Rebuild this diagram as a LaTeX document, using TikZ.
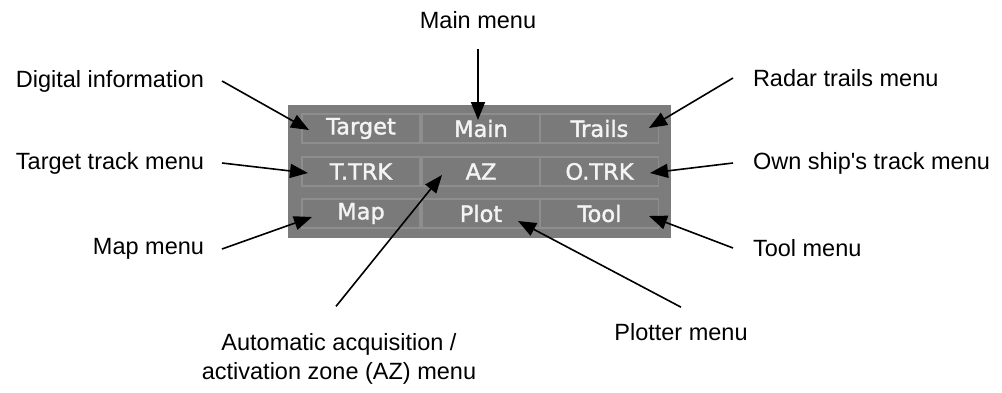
\documentclass[tikz,border=0pt]{standalone}
\usepackage{fontspec}
\newfontfamily\lblfont{Liberation Sans}
\newfontfamily\btnfont[FakeBold=1.5]{DejaVu Sans}
\usepackage{tikz}
\usetikzlibrary{arrows.meta}
\definecolor{panel}{HTML}{7C7C7C}
\definecolor{btnface}{HTML}{7A7A7A}
\definecolor{btnedge}{HTML}{8E8E8E}
\definecolor{btntext}{HTML}{F4F4F4}

\tikzset{
  button/.style={draw=btnedge,line width=1.2pt,fill=btnface,minimum width=118pt,minimum height=29pt,
    inner sep=0pt,text=btntext,font=\btnfont\fontsize{22.5}{26}\selectfont},
  lbl/.style={inner sep=0pt,font=\lblfont\fontsize{23.5}{29}\selectfont,align=center},
  lblL/.style={lbl,anchor=east,outer xsep=18pt},
  lblR/.style={lbl,anchor=west,outer xsep=20pt},
  callout/.style={line width=1.6pt,-{Triangle[length=18pt,width=14pt]}}
}

\begin{document}
\begin{tikzpicture}[x=1pt,y=-1pt]
  \useasboundingbox (0,0) rectangle (1002,392);

  % Panel
  \fill[panel] (288,105) rectangle (671,238);

  % Buttons
  \node[button] (target) at (361,128.5) {Target};
  \node[button] (main)   at (481,128.5) {Main};
  \node[button] (trails) at (599.5,128.5) {Trails};
  \node[button] (ttrk)   at (361,171.5) {T.TRK};
  \node[button] (az)     at (481,171.5) {AZ};
  \node[button] (otrk)   at (599.5,171.5) {O.TRK};
  \node[button] (map)    at (361,213.5) {Map};
  \node[button] (plot)   at (481,213.5) {Plot};
  \node[button] (tool)   at (599.5,213.5) {Tool};

  % Labels
  \node[lbl]  (mainlbl) at (478,20) {Main menu};
  \node[lblL] (diglbl)  at (222,81) {Digital information};
  \node[lblR] (trllbl)  at (733,78) {Radar trails menu};
  \node[lblL] (ttrklbl) at (222,163) {Target track menu};
  \node[lblR] (otrklbl) at (733,163) {Own ship's track menu};
  \node[lblL] (maplbl)  at (222,249) {Map menu};
  \node[lblR] (toollbl) at (733,248) {Tool menu};
  \node[lbl]  (plotlbl) at (681,332) {Plotter menu};
  \node[lbl]  (azlbl)   at (339,359) {Automatic acquisition /\\activation zone (AZ) menu};

  % Arrow tips
  \coordinate (tDig)  at (309,130);
  \coordinate (tMain) at (478,120);
  \coordinate (tTrl)  at (649,128);
  \coordinate (tTtrk) at (308,173);
  \coordinate (tAz)   at (442,175);
  \coordinate (tOtrk) at (650,173);
  \coordinate (tMap)  at (312,217);
  \coordinate (tPlot) at (518,221);
  \coordinate (tTool) at (649,216);

  % Callouts
  \draw[callout] ([yshift=-20pt]mainlbl.south) -- (tMain);
  \draw[callout] (diglbl.east) -- (tDig);
  \draw[callout] (trllbl.west) -- (tTrl);
  \draw[callout] (ttrklbl.east) -- (tTtrk);
  \draw[callout] (otrklbl.west) -- (tOtrk);
  \draw[callout] (maplbl.east) -- (tMap);
  \draw[callout] (toollbl.west) -- (tTool);
  \draw[callout] ([yshift=16pt]plotlbl.north) -- (tPlot);
  \draw[callout] ([yshift=27pt,xshift=-3pt]azlbl.north) -- (tAz);
\end{tikzpicture}
\end{document}
